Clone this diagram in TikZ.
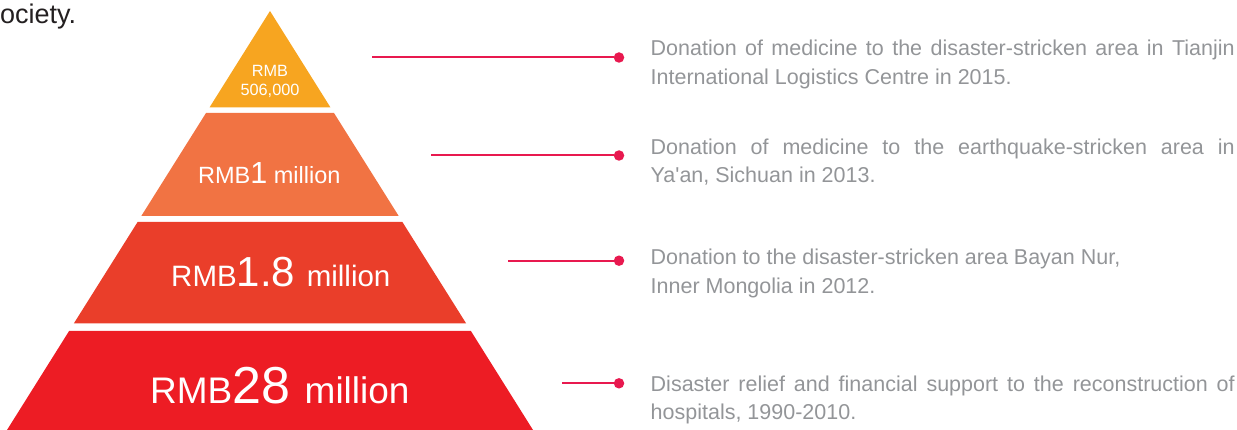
\documentclass[tikz,border=0pt]{standalone}
\usepackage{fontspec}
\setmainfont{Liberation Sans}[Ligatures=TeXOff]
\usepackage{xcolor}
\definecolor{tierA}{HTML}{F7A520}
\definecolor{tierB}{HTML}{F17343}
\definecolor{tierC}{HTML}{EA3E2A}
\definecolor{tierD}{HTML}{ED1C24}
\definecolor{leadred}{HTML}{E8194F}
\definecolor{notegray}{HTML}{939598}
\definecolor{headdark}{HTML}{231F20}
\hyphenpenalty=10000
\exhyphenpenalty=10000

\begin{document}
\begin{tikzpicture}[x=1pt, y=-1pt,
    leader/.style={draw=leadred, line width=2pt},
    dot/.style={circle, fill=leadred, inner sep=0pt, minimum size=10.5pt},
    note/.style={anchor=base west, inner sep=0pt, text width=584pt, align=justify, text=notegray, font=\fontsize{21.5}{28.5}\selectfont},
    amount/.style={anchor=base west, inner sep=0pt, text=white}
]
    \useasboundingbox (0,0) rectangle (1237,430);

    % pyramid tiers
    \fill[tierA] (270,11) -- (330.4,107.3) -- (209.6,107.3) -- cycle;
    \fill[tierB] (206.0,113) -- (334.0,113) -- (398.7,216) -- (141.3,216) -- cycle;
    \fill[tierC] (137.6,222) -- (402.4,222) -- (466.2,323.5) -- (73.8,323.5) -- cycle;
    \fill[tierD] (69.1,331) -- (470.9,331) -- (533,430) -- (7,430) -- cycle;

    \node[font=\fontsize{27}{27}\selectfont, text=headdark, anchor=base west, inner sep=0pt] (tail) at (0,24) {ociety.};

    \node[align=center, inner sep=0pt, text=white, font=\fontsize{16.3}{19}\selectfont] (amt1) at (270,81) {RMB\\506,000};
    \node[amount] (amt2) at (198,184) {\fontsize{23.5}{23.5}\selectfont RMB\fontsize{30.5}{30.5}\selectfont 1\fontsize{23.5}{23.5}\selectfont\ million};
    \node[amount] (amt3) at (171,287) {\fontsize{29.5}{29.5}\selectfont RMB\fontsize{42}{42}\selectfont 1.8\ \fontsize{29.5}{29.5}\selectfont million};
    \node[amount] (amt4) at (150,403) {\fontsize{37}{37}\selectfont RMB\fontsize{52}{52}\selectfont 28\ \fontsize{37}{37}\selectfont million};

    % leaders
    \coordinate (s1) at (372,57.5);
    \coordinate (s2) at (431,155.5);
    \coordinate (s3) at (508,260.7);
    \coordinate (s4) at (562,383.3);
    \node[dot] (d1) at (619,57.5) {};
    \node[dot] (d2) at (619,155.5) {};
    \node[dot] (d3) at (619,260.7) {};
    \node[dot] (d4) at (619,383.3) {};
    \draw[leader] (s1) -- (d1);
    \draw[leader] (s2) -- (d2);
    \draw[leader] (s3) -- (d3);
    \draw[leader] (s4) -- (d4);

    \node[note] (n1) at (650.5,56) {Donation of medicine to the disaster-stricken area in Tianjin International Logistics Centre in 2015.};
    \node[note] (n2) at (650.5,154.3) {Donation of medicine to the earthquake-stricken area in\linebreak Ya'an, Sichuan in 2013.};
    \node[note] (n3) at (650.5,265) {Donation to the disaster-stricken area Bayan Nur,\\ Inner Mongolia in 2012.};
    \node[note] (n4) at (650.5,391) {Disaster relief and financial support to the reconstruction of hospitals, 1990-2010.};
\end{tikzpicture}
\end{document}
